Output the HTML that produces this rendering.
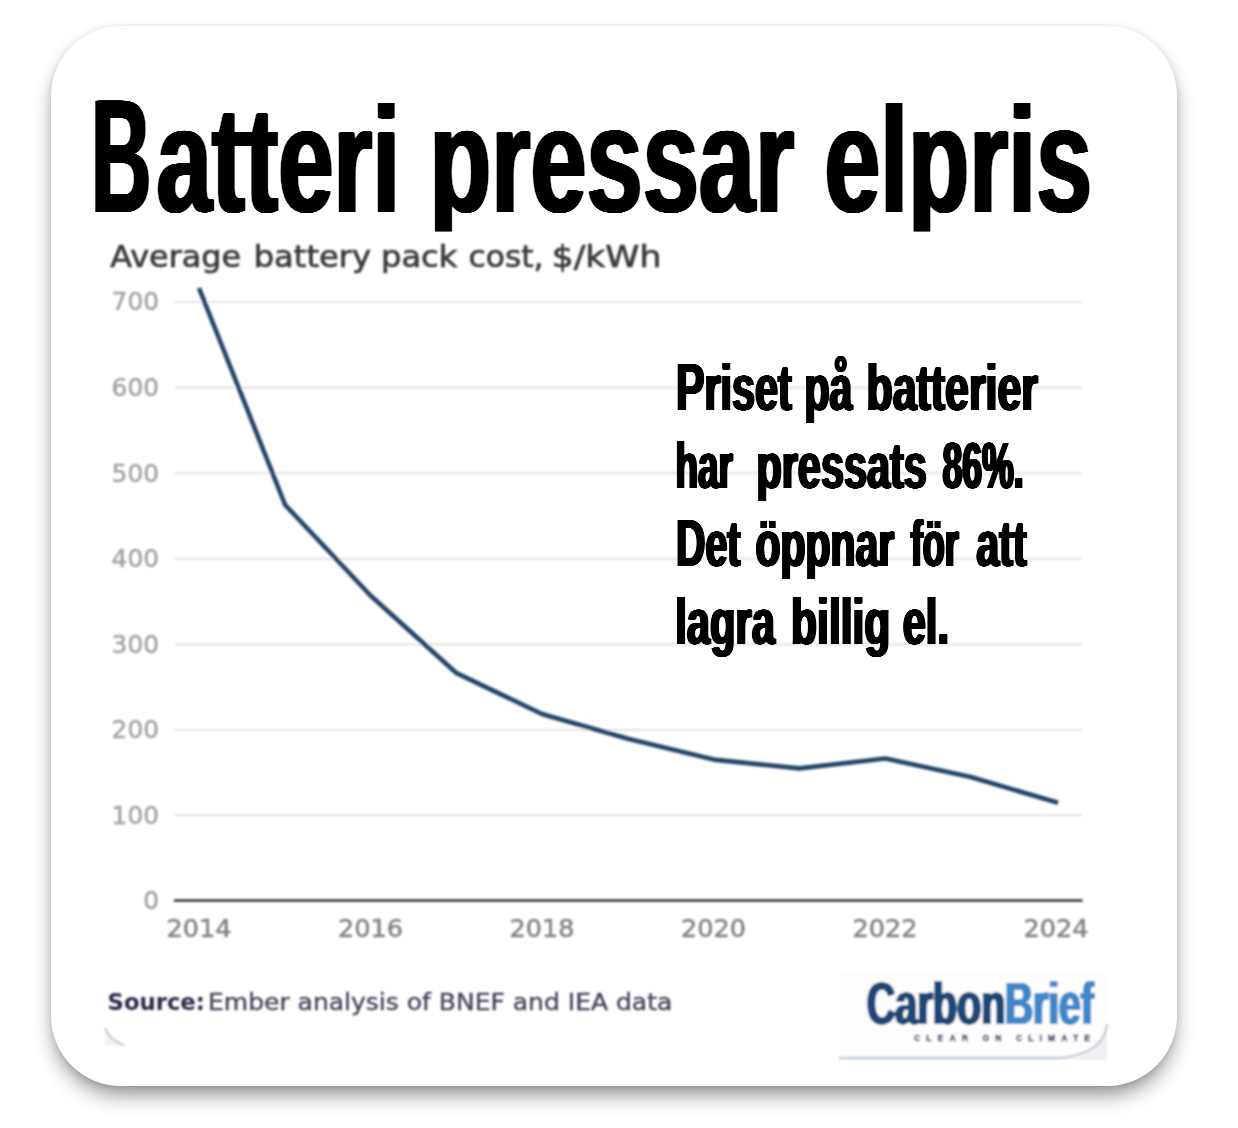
<!DOCTYPE html>
<html lang="sv">
<head>
<meta charset="utf-8">
<title>Batteri pressar elpris</title>
<style>
  html, body { margin: 0; padding: 0; background: #ffffff; }
  body { width: 1238px; height: 1128px; position: relative; overflow: hidden; }
  .card {
    position: absolute; left: 51px; top: 26px; width: 1126px; height: 1060px;
    background: #ffffff; border-radius: 70px;
    box-shadow: 0 12px 21px -4px rgba(0,0,0,0.45), 0 1px 6px rgba(0,0,0,0.11);
  }
  svg.layer { position: absolute; left: 0; top: 0; width: 1238px; height: 1128px; }
  .hd { font-family: "Liberation Sans", sans-serif; font-weight: 700; }
  .cf { font-family: "DejaVu Sans", "Liberation Sans", sans-serif; }
</style>
</head>
<body>
<div class="card"></div>
<svg class="layer" width="1238" height="1128" viewBox="0 0 1238 1128">
  <defs>
    <filter id="soft" x="-2%" y="-2%" width="104%" height="104%"><feGaussianBlur stdDeviation="0.95"/></filter>
    <filter id="fatT" x="-2%" y="-10%" width="104%" height="120%" color-interpolation-filters="sRGB"><feGaussianBlur stdDeviation="1.5 0"/><feComponentTransfer><feFuncA type="linear" slope="5" intercept="-0.295"/></feComponentTransfer></filter>
    <filter id="fatL" x="-2%" y="-10%" width="104%" height="120%" color-interpolation-filters="sRGB"><feGaussianBlur stdDeviation="1.25 0"/><feComponentTransfer><feFuncA type="linear" slope="5" intercept="-0.295"/></feComponentTransfer></filter>
    <filter id="fatN" x="-2%" y="-10%" width="104%" height="120%" color-interpolation-filters="sRGB"><feGaussianBlur stdDeviation="1.3 0"/><feComponentTransfer><feFuncA type="linear" slope="5" intercept="-0.295"/></feComponentTransfer></filter>
  </defs>

  <!-- headline -->
  <g class="hd" font-size="150" filter="url(#fatT)">
    <text y="212"><tspan x="91.3" font-size="161" textLength="59.8" lengthAdjust="spacingAndGlyphs">B</tspan><tspan x="156.4" textLength="243.7" lengthAdjust="spacingAndGlyphs">atteri</tspan></text>
    <text x="429.57" y="212" textLength="364.7" lengthAdjust="spacingAndGlyphs">pressar</text>
    <text x="824.4" y="212" textLength="267.5" lengthAdjust="spacingAndGlyphs">elpris</text>
  </g>

  <!-- chart image (covers headline descenders) -->
  <rect x="105" y="231.6" width="1002" height="814" fill="#ffffff"/>
  <g filter="url(#soft)">
    <g class="cf" font-size="30.5" fill="#3a3a3a" stroke="#3a3a3a" stroke-width="0.7">
      <text x="110.3" y="267.3" textLength="130.9" lengthAdjust="spacingAndGlyphs">Average</text>
      <text x="253.7" y="267.3" textLength="117.3" lengthAdjust="spacingAndGlyphs">battery</text>
      <text x="381" y="267.3" textLength="76.4" lengthAdjust="spacingAndGlyphs">pack</text>
      <text x="468.6" y="267.3" textLength="74.9" lengthAdjust="spacingAndGlyphs">cost,</text>
      <text x="551.7" y="267.3" textLength="109.6" lengthAdjust="spacingAndGlyphs">$/kWh</text>
    </g>

    <g stroke="#e4e4e4" stroke-width="2.2">
      <line x1="175" y1="302" x2="1082" y2="302"/>
      <line x1="175" y1="387.6" x2="1082" y2="387.6"/>
      <line x1="175" y1="473.2" x2="1082" y2="473.2"/>
      <line x1="175" y1="558.8" x2="1082" y2="558.8"/>
      <line x1="175" y1="644.4" x2="1082" y2="644.4"/>
      <line x1="175" y1="729.8" x2="1082" y2="729.8"/>
      <line x1="175" y1="815.2" x2="1082" y2="815.2"/>
    </g>
    <line x1="174" y1="900.5" x2="1082.5" y2="900.5" stroke="#555" stroke-width="3"/>

    <g class="cf" font-size="24" fill="#a2a2a2" stroke="#a2a2a2" stroke-width="0.5" lengthAdjust="spacingAndGlyphs">
      <text x="111.6" y="310.3" textLength="47.4" lengthAdjust="spacingAndGlyphs">700</text>
      <text x="111.6" y="395.9" textLength="47.4" lengthAdjust="spacingAndGlyphs">600</text>
      <text x="111.6" y="481.5" textLength="47.4" lengthAdjust="spacingAndGlyphs">500</text>
      <text x="111.6" y="567.1" textLength="47.4" lengthAdjust="spacingAndGlyphs">400</text>
      <text x="111.6" y="652.7" textLength="47.4" lengthAdjust="spacingAndGlyphs">300</text>
      <text x="111.6" y="738.1" textLength="47.4" lengthAdjust="spacingAndGlyphs">200</text>
      <text x="111.6" y="823.5" textLength="47.4" lengthAdjust="spacingAndGlyphs">100</text>
      <text x="143.2" y="908.8" textLength="15.8" lengthAdjust="spacingAndGlyphs">0</text>
    </g>

    <g class="cf" font-size="24.4" fill="#858585" stroke="#858585" stroke-width="0.6">
      <text x="166.5" y="936.5" textLength="65" lengthAdjust="spacingAndGlyphs">2014</text>
      <text x="338" y="936.5" textLength="65" lengthAdjust="spacingAndGlyphs">2016</text>
      <text x="509.5" y="936.5" textLength="65" lengthAdjust="spacingAndGlyphs">2018</text>
      <text x="681" y="936.5" textLength="65" lengthAdjust="spacingAndGlyphs">2020</text>
      <text x="852.5" y="936.5" textLength="65" lengthAdjust="spacingAndGlyphs">2022</text>
      <text x="1023.5" y="936.5" textLength="65" lengthAdjust="spacingAndGlyphs">2024</text>
    </g>

    <polyline fill="none" stroke="#24446a" stroke-width="4.6" stroke-linejoin="round" stroke-linecap="butt"
      points="199,288 285.2,505 370.5,595.5 456.6,673.2 542,714 628,738.8 713.7,759.6 799.3,768.4 885.4,758.5 970.8,777 1058,802.8"/>

    <text class="cf" x="107.5" y="1010.3" font-size="22.8" font-weight="700" fill="#2a2a48" textLength="97.4" lengthAdjust="spacingAndGlyphs">Source:</text>
    <text class="cf" x="208" y="1010.3" font-size="22.8" fill="#45455a" stroke="#45455a" stroke-width="0.4" textLength="464.3" lengthAdjust="spacingAndGlyphs">Ember analysis of BNEF and IEA data</text>

    <!-- logo block -->
    <rect x="839" y="972" width="268" height="88" fill="#fdfdfe"/>
    <path d="M1107,1026 L1107,1060 L1062,1060 Q1104,1056 1107,1026 Z" fill="#f1f1f1"/>
    <path d="M839,1058 L1060,1058 Q1104,1054 1107,1024" fill="none" stroke="#bfccd8" stroke-width="2.5"/>
    <path d="M105,1028 Q110,1040 124,1045.5 L105,1045.5 Z" fill="#eef2f5"/>
    <path d="M105,1028 Q110,1040 124,1045.5" fill="none" stroke="#bfccd8" stroke-width="2"/>
    <g class="hd" font-size="59" filter="url(#fatL)">
      <text x="866.7" y="1024" fill="#1f4676" textLength="138.7" lengthAdjust="spacingAndGlyphs">Carbon</text>
      <text x="1004.9" y="1024" fill="#3f86c8" textLength="88.8" lengthAdjust="spacingAndGlyphs">Brief</text>
    </g>
    <text class="hd" x="914" y="1040.5" font-size="8.6" fill="#2c3c62" stroke="#2c3c62" stroke-width="0.4" textLength="176" lengthAdjust="spacing">CLEAR ON CLIMATE</text>
  </g>

  <!-- annotation -->
  <g class="hd" font-size="65" filter="url(#fatN)">
    <text x="675.9" y="409.5" textLength="116.0" lengthAdjust="spacingAndGlyphs"><tspan font-size="67">P</tspan>riset</text>
    <text x="804.4" y="409.5" textLength="47.9" lengthAdjust="spacingAndGlyphs">på</text>
    <text x="866.6" y="409.5" textLength="171.4" lengthAdjust="spacingAndGlyphs">batterier</text>
    <text x="675.6" y="487.5" textLength="57.3" lengthAdjust="spacingAndGlyphs">har</text>
    <text x="756.4" y="487.5" textLength="170.5" lengthAdjust="spacingAndGlyphs">pressats</text>
    <text x="942.4" y="487.5" textLength="81.3" lengthAdjust="spacingAndGlyphs">86%.</text>
    <text x="676.0" y="565.8" textLength="64.5" lengthAdjust="spacingAndGlyphs"><tspan font-size="67">D</tspan>et</text>
    <text x="755.4" y="565.8" textLength="138.7" lengthAdjust="spacingAndGlyphs">öppnar</text>
    <text x="910.7" y="565.8" textLength="48.1" lengthAdjust="spacingAndGlyphs">för</text>
    <text x="976.3" y="565.8" textLength="50.4" lengthAdjust="spacingAndGlyphs">att</text>
    <text x="675.2" y="644" textLength="99.7" lengthAdjust="spacingAndGlyphs">lagra</text>
    <text x="791.1" y="644" textLength="99.2" lengthAdjust="spacingAndGlyphs">billig</text>
    <text x="902.7" y="644" textLength="46.3" lengthAdjust="spacingAndGlyphs">el.</text>
  </g>
</svg>
</body>
</html>
